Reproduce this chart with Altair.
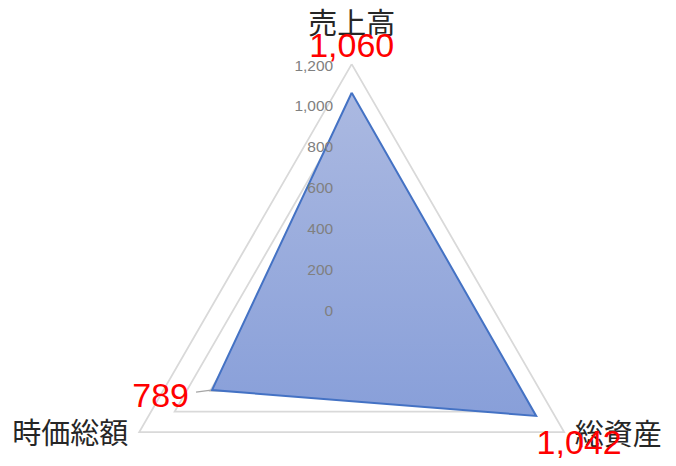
import altair as alt
import pandas as pd

categories = ["売上高", "総資産", "時価総額"]
values = [1060, 1042, 789]
value_labels = ["1,060", "1,042", "789"]
tick_values = [0, 200, 400, 600, 800, 1000, 1200]
tick_labels = ["0", "200", "400", "600", "800", "1,000", "1,200"]
r_max = 1200

n = len(categories)

rings = pd.DataFrame(
    [{"level": lvl, "idx": i % n, "ord": i, "r": lvl}
     for lvl in tick_values[1:] for i in range(n + 1)]
)
poly = pd.DataFrame(
    [{"idx": i % n, "ord": i, "r": values[i % n]} for i in range(n + 1)]
)
pts = pd.DataFrame({"idx": list(range(n)), "r": values, "cat": categories, "lab": value_labels})
ticks = pd.DataFrame({"r": tick_values, "lab": tick_labels, "idx": [0] * len(tick_values)})
cats = pd.DataFrame({"idx": list(range(n)), "r": [r_max] * n, "cat": categories})

W, H = 660, 450
CX, CY = 343.7, 301.4
K = 245.3 / r_max
X_DOM = [-CX / K, (W - CX) / K]
Y_DOM = [-(H - CY) / K, CY / K]

xenc = alt.X("px:Q", scale=alt.Scale(domain=X_DOM, nice=False, zero=False), axis=None)
yenc = alt.Y("py:Q", scale=alt.Scale(domain=Y_DOM, nice=False, zero=False), axis=None)


def base(df):
    return alt.Chart(df).transform_calculate(
        px=f"datum.r * sin(datum.idx * 2 * PI / {n})",
        py=f"datum.r * cos(datum.idx * 2 * PI / {n})",
    )


grid = base(rings).mark_line(stroke="#D9D9D9", strokeWidth=1.8).encode(
    x=xenc, y=yenc, detail="level:N", order="ord:Q"
)

fill = base(poly).mark_line(
    stroke="#4472C4",
    strokeWidth=2,
    strokeJoin="miter",
    fill=alt.Gradient(
        gradient="linear",
        stops=[alt.GradientStop(color="#ABB9E1", offset=0),
               alt.GradientStop(color="#889FD9", offset=1)],
        x1=0, x2=0, y1=0, y2=1,
    ),
).encode(x=xenc, y=yenc, order="ord:Q")

tick_text = base(ticks).mark_text(
    align="right", baseline="alphabetic", dx=-18.5, dy=6.5,
    font="Liberation Sans", fontSize=15.5, color="#808080",
).encode(x=xenc, y=yenc, text="lab:N")

cat_offsets = {"売上高": (0, -30), "総資産": (54, 13), "時価総額": (-69, 12)}
val_offsets = {"1,060": (0, -35.5, "center"), "1,042": (43, 38, "center"), "789": (-23, 16.5, "right")}

cat_layers = []
for c in categories:
    dx, dy = cat_offsets[c]
    cat_layers.append(
        base(cats).transform_filter(alt.datum.cat == c).mark_text(
            align="center", baseline="alphabetic", dx=dx, dy=dy,
            font="Noto Sans CJK JP", fontSize=29, color="#262626",
        ).encode(x=xenc, y=yenc, text="cat:N")
    )

leader = base(pts).transform_filter(alt.datum.lab == "789").mark_rule(
    stroke="#A6A6A6", strokeWidth=1.3, xOffset=-16, x2Offset=-1, yOffset=2, y2Offset=0
).encode(x=xenc, x2=alt.X2("px:Q"), y=yenc, y2=alt.Y2("py:Q"))

val_layers = []
for lab in value_labels:
    dx, dy, al = val_offsets[lab]
    val_layers.append(
        base(pts).transform_filter(alt.datum.lab == lab).mark_text(
            align=al, baseline="alphabetic", dx=dx, dy=dy,
            font="Liberation Sans", fontSize=34, color="#FF0000",
        ).encode(x=xenc, y=yenc, text="lab:N")
    )

chart = alt.layer(grid, fill, tick_text, leader, *cat_layers, *val_layers).properties(
    width=W, height=H, padding=0, autosize="none"
).configure_view(strokeWidth=0)

chart.save("out.html", embed_options={"renderer": "svg", "actions": False})
